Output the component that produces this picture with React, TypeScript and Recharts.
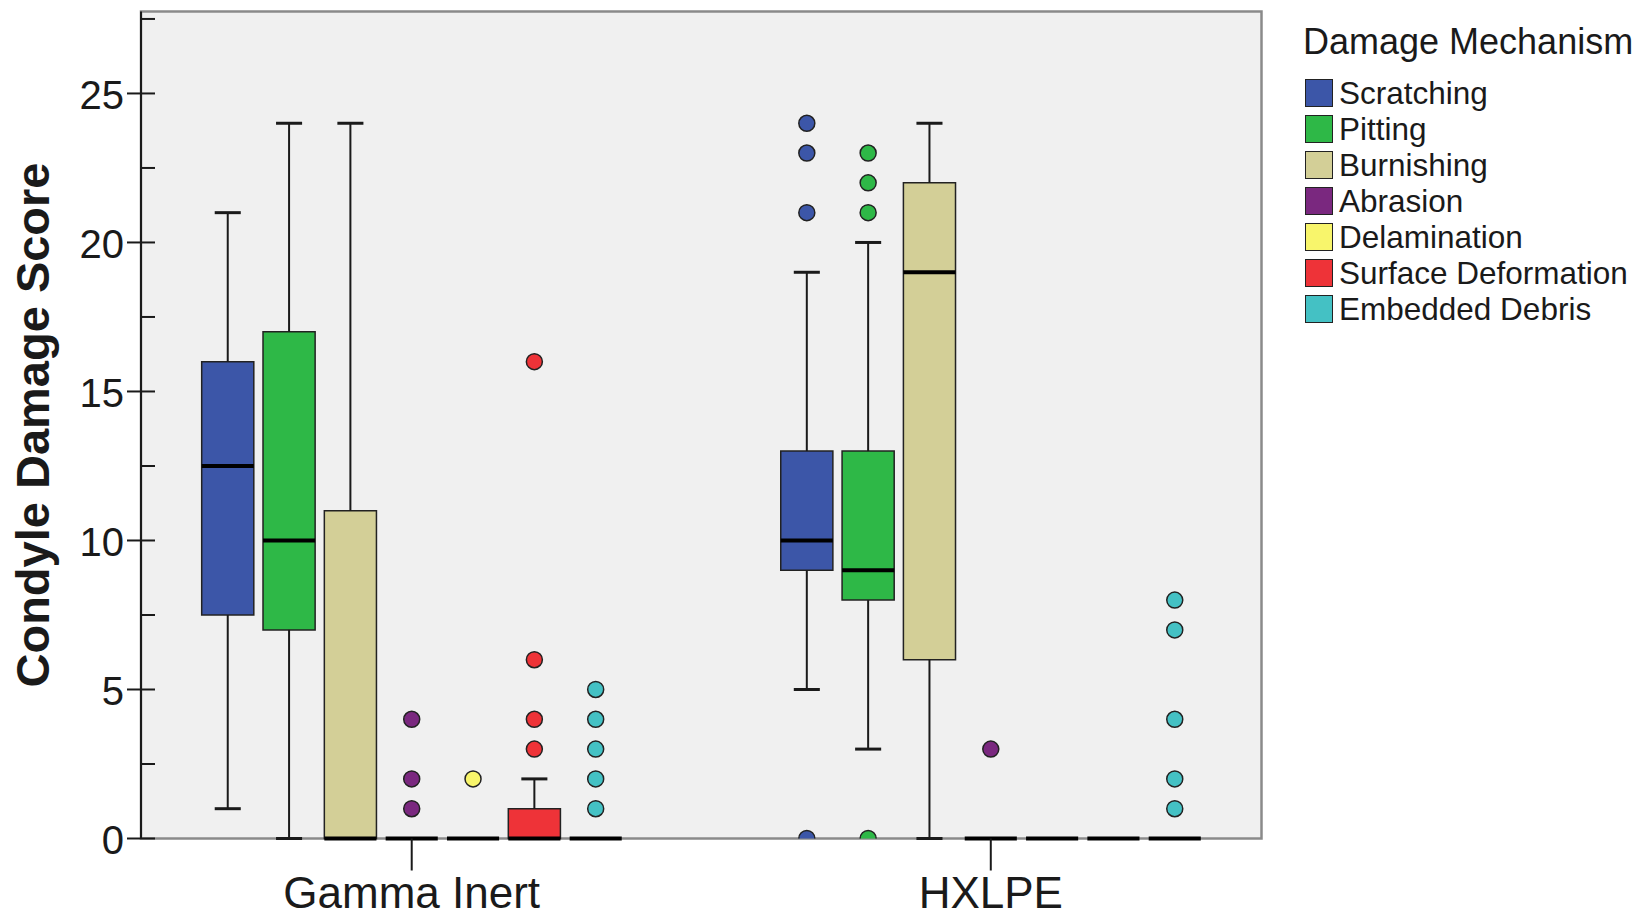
import React from "react";
import { ComposedChart, Scatter, XAxis, YAxis, ReferenceArea, ReferenceLine } from "recharts";

const groups = ["Gamma Inert", "HXLPE"];
const mechanisms = [
  "Scratching",
  "Pitting",
  "Burnishing",
  "Abrasion",
  "Delamination",
  "Surface Deformation",
  "Embedded Debris",
];
const colors = ["#3c56a8", "#2eb847", "#d3cf97", "#7a287f", "#f8f56b", "#ee3338", "#44c1c4"];

// box statistics, one entry per mechanism (same order as above)
const gammaLow = [1, 0, 0, 0, 0, 0, 0];
const gammaQ1 = [7.5, 7, 0, 0, 0, 0, 0];
const gammaMedian = [12.5, 10, 0, 0, 0, 0, 0];
const gammaQ3 = [16, 17, 11, 0, 0, 1, 0];
const gammaHigh = [21, 24, 24, 0, 0, 2, 0];
const gammaOutliers = [[], [], [], [1, 2, 4], [2], [3, 4, 6, 16], [1, 2, 3, 4, 5]];

const hxlpeLow = [5, 3, 0, 0, 0, 0, 0];
const hxlpeQ1 = [9, 8, 6, 0, 0, 0, 0];
const hxlpeMedian = [10, 9, 19, 0, 0, 0, 0];
const hxlpeQ3 = [13, 13, 22, 0, 0, 0, 0];
const hxlpeHigh = [19, 20, 24, 0, 0, 0, 0];
const hxlpeOutliers = [[0, 21, 23, 24], [0, 21, 22, 23], [], [3], [], [], [1, 2, 4, 7, 8]];

const yTicks = [0, 2.5, 5, 7.5, 10, 12.5, 15, 17.5, 20, 22.5, 25, 27.5];

// layout in x-axis units (groups sit at 1 and 2)
const X_MIN = 0.5325;
const X_MAX = 2.4675;
const Y_MAX = 27.75;
const SLOT = 0.1059;
const HALF_BOX = 0.045;
const HALF_CAP = 0.0225;

const FONT = "'Liberation Sans', Arial, Helvetica, sans-serif";
const INK = "#1a1a1a";

const stats = [
  { low: gammaLow, q1: gammaQ1, med: gammaMedian, q3: gammaQ3, high: gammaHigh, out: gammaOutliers },
  { low: hxlpeLow, q1: hxlpeQ1, med: hxlpeMedian, q3: hxlpeQ3, high: hxlpeHigh, out: hxlpeOutliers },
];

const boxes = stats.flatMap((s, g) =>
  mechanisms.map((_, m) => ({
    key: `${g}-${m}`,
    m,
    c: g + 1 + (m - 3) * SLOT,
    low: s.low[m],
    q1: s.q1[m],
    med: s.med[m],
    q3: s.q3[m],
    high: s.high[m],
  }))
);

const outlierData = mechanisms.map((_, m) =>
  stats.flatMap((s, g) => s.out[m].map((v) => ({ x: g + 1 + (m - 3) * SLOT, y: v })))
);

const YTick = (props: any) => {
  const { x, y, payload } = props;
  const major = payload.value % 5 === 0;
  return (
    <g>
      <line x1={major ? x - 14 : x} x2={x + 14} y1={y} y2={y} stroke={INK} strokeWidth={2} />
      {major && (
        <text x={x - 17} y={y} dy="0.38em" textAnchor="end" fontSize={40} fontFamily={FONT} fill={INK}>
          {payload.value}
        </text>
      )}
    </g>
  );
};

const XTick = (props: any) => {
  const { x, y, payload } = props;
  return (
    <text x={x} y={y} dy="0.7em" textAnchor="middle" fontSize={44} fontFamily={FONT} fill={INK}>
      {groups[payload.value - 1]}
    </text>
  );
};

const YTitle = (props: any) => {
  const vb = props.viewBox || { x: 0, y: 11.5, height: 827 };
  const cx = vb.x + 49;
  const cy = vb.y + vb.height / 2;
  return (
    <text
      transform={`translate(${cx}, ${cy}) rotate(-90)`}
      textAnchor="middle"
      fontSize={47}
      fontWeight="bold"
      fontFamily={FONT}
      fill={INK}
    >
      Condyle Damage Score
    </text>
  );
};

export default function App() {
  return (
    <div style={{ position: "absolute", left: 0, top: 0, width: 1644, height: 919, background: "#fff" }}>
      <ComposedChart width={1644} height={919} margin={{ top: 11.5, right: 382.5, bottom: 0, left: 0 }}>
        <ReferenceArea
          x1={X_MIN}
          x2={X_MAX}
          y1={0}
          y2={Y_MAX}
          fill="#f0f0f0"
          fillOpacity={1}
          stroke="#8a8a8a"
          strokeWidth={2.5}
        />
        <XAxis
          type="number"
          dataKey="x"
          domain={[X_MIN, X_MAX]}
          ticks={[1, 2]}
          allowDataOverflow
          height={80.5}
          axisLine={false}
          tickSize={32}
          tickMargin={7}
          tickLine={{ stroke: INK, strokeWidth: 2 }}
          tick={<XTick />}
        />
        <YAxis
          type="number"
          dataKey="y"
          domain={[0, Y_MAX]}
          ticks={yTicks}
          allowDataOverflow
          width={141}
          axisLine={{ stroke: INK, strokeWidth: 2 }}
          tickLine={false}
          tickSize={0}
          tickMargin={0}
          tick={<YTick />}
          label={YTitle}
        />
        {boxes
          .filter((b) => b.q3 > b.q1)
          .map((b) => (
            <ReferenceArea
              key={`box-${b.key}`}
              x1={b.c - HALF_BOX}
              x2={b.c + HALF_BOX}
              y1={b.q1}
              y2={b.q3}
              fill={colors[b.m]}
              fillOpacity={1}
              stroke="#222"
              strokeWidth={1.5}
              ifOverflow="visible"
            />
          ))}
        {boxes
          .filter((b) => b.high > b.q3)
          .map((b) => (
            <ReferenceLine
              key={`wu-${b.key}`}
              segment={[{ x: b.c, y: b.q3 }, { x: b.c, y: b.high }]}
              stroke={INK}
              strokeWidth={2}
              ifOverflow="visible"
            />
          ))}
        {boxes
          .filter((b) => b.high > b.q3)
          .map((b) => (
            <ReferenceLine
              key={`cu-${b.key}`}
              segment={[{ x: b.c - HALF_CAP, y: b.high }, { x: b.c + HALF_CAP, y: b.high }]}
              stroke={INK}
              strokeWidth={3}
              ifOverflow="visible"
            />
          ))}
        {boxes
          .filter((b) => b.q1 > b.low)
          .map((b) => (
            <ReferenceLine
              key={`wl-${b.key}`}
              segment={[{ x: b.c, y: b.q1 }, { x: b.c, y: b.low }]}
              stroke={INK}
              strokeWidth={2}
              ifOverflow="visible"
            />
          ))}
        {boxes
          .filter((b) => b.q1 > b.low)
          .map((b) => (
            <ReferenceLine
              key={`cl-${b.key}`}
              segment={[{ x: b.c - HALF_CAP, y: b.low }, { x: b.c + HALF_CAP, y: b.low }]}
              stroke={INK}
              strokeWidth={3}
              ifOverflow="visible"
            />
          ))}
        {boxes.map((b) => (
          <ReferenceLine
            key={`md-${b.key}`}
            segment={[{ x: b.c - HALF_BOX, y: b.med }, { x: b.c + HALF_BOX, y: b.med }]}
            stroke="#000"
            strokeWidth={4}
            ifOverflow="visible"
          />
        ))}
        {mechanisms.map((name, m) => (
          <Scatter
            key={name}
            name={name}
            data={outlierData[m]}
            fill={colors[m]}
            isAnimationActive={false}
            shape={(p: any) => (
              <circle cx={p.cx} cy={p.cy} r={8} fill={colors[m]} stroke="#222" strokeWidth={1.5} />
            )}
          />
        ))}
      </ComposedChart>

      <div style={{ position: "absolute", left: 1303, top: 0, fontFamily: FONT, color: INK }}>
        <div style={{ position: "absolute", left: 0, top: 22, fontSize: 36, lineHeight: "40px", whiteSpace: "nowrap" }}>
          Damage Mechanism
        </div>
        {mechanisms.map((name, m) => (
          <div
            key={name}
            style={{
              position: "absolute",
              left: 2,
              top: 75 + m * 36,
              height: 36,
              display: "flex",
              alignItems: "center",
              whiteSpace: "nowrap",
            }}
          >
            <div
              style={{
                width: 26,
                height: 26,
                background: colors[m],
                border: "1.5px solid #222",
                marginRight: 6,
              }}
            />
            <span style={{ fontSize: 31.5, lineHeight: "36px" }}>{name}</span>
          </div>
        ))}
      </div>
    </div>
  );
}
